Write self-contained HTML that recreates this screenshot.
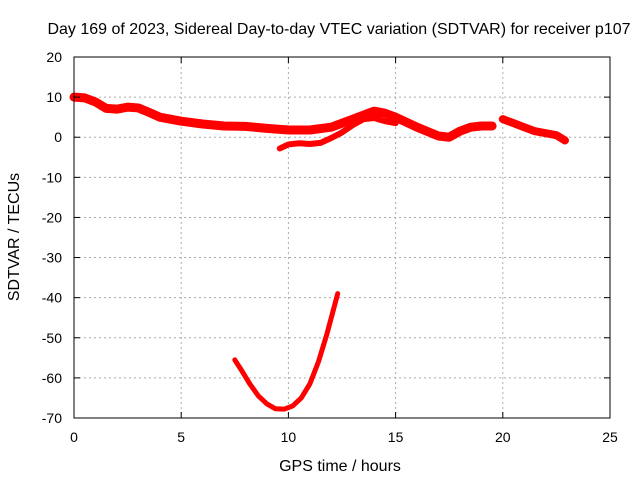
<!DOCTYPE html>
<html><head><meta charset="utf-8"><style>
body{margin:0;background:#fff;font-family:"Liberation Sans",sans-serif}
svg text{font-family:"Liberation Sans",sans-serif;font-size:14px;fill:#000}
</style></head><body>
<svg id="chart" width="640" height="480">
<text x="339" y="34" text-anchor="middle" style="font-size:16px">Day 169 of 2023, Sidereal Day-to-day VTEC variation (SDTVAR) for receiver p107</text>
<text x="340" y="471" text-anchor="middle" style="font-size:16px">GPS time / hours</text>
<text transform="translate(19,237) rotate(-90)" text-anchor="middle" style="font-size:16px">SDTVAR / TECUs</text>
<g id="grid"></g><g id="marks"></g>
<rect x="74" y="57" width="536" height="361" fill="none" stroke="#000"/>
<g id="ticks"></g>
</svg>
<script>
const xTicks=[0,5,10,15,20,25];
const yTicks=[20,10,0,-10,-20,-30,-40,-50,-60,-70];
const mainHours=[0,0.5,1,1.5,2,2.5,3,3.5,4,5,6,7,8,9,10,11,12,13,14,14.5,15,16,17,17.5,18,18.5,19,19.5];
const mainValues=[10,9.8,8.8,7.2,7,7.5,7.3,6.2,5,4,3.3,2.8,2.7,2.2,1.8,1.8,2.5,4.5,6.5,6,5,2.5,0.3,0,1.5,2.5,2.8,2.8];
const lowHours=[9.6,10,10.5,11,11.5,12,12.5,13,13.5,14,14.5,15];
const lowValues=[-2.8,-1.8,-1.5,-1.7,-1.4,-0.2,1.2,3,4.5,4.8,4,3.5];
const lateHours=[20,20.5,21,21.5,22,22.5,22.9];
const lateValues=[4.5,3.5,2.5,1.5,1,0.5,-0.8];
const curveHours=[7.5,7.8,8.2,8.6,9,9.4,9.8,10.2,10.6,11,11.4,11.8,12.1,12.3];
const curveValues=[-55.5,-58,-61.5,-64.5,-66.5,-67.7,-67.8,-67,-65,-61.5,-56,-49,-43,-39];
const X=v=>74+v*536/25, Y=v=>57+(20-v)*361/90;
const NS="http://www.w3.org/2000/svg";
const grid=document.getElementById('grid'),ticks=document.getElementById('ticks'),marks=document.getElementById('marks');
function mk(tag,at,p){const e=document.createElementNS(NS,tag);for(const k in at)e.setAttribute(k,at[k]);p.appendChild(e);return e;}
xTicks.forEach(t=>{
 if(t>0&&t<25){const g=mk('line',{x1:X(t),x2:X(t),y1:57,y2:418,stroke:'#aaa','stroke-dasharray':'2,3'},grid);
 
 }
 mk('line',{x1:X(t),x2:X(t),y1:418,y2:412,stroke:'#000'},ticks);
 mk('line',{x1:X(t),x2:X(t),y1:57,y2:63,stroke:'#000'},ticks);
 const l=mk('text',{x:X(t),y:442,'text-anchor':'middle'},ticks);l.textContent=t;
 
 
});
yTicks.forEach(t=>{
 if(t<20&&t>-70){const g=mk('line',{x1:74,x2:610,y1:Y(t),y2:Y(t),stroke:'#aaa','stroke-dasharray':'2,3'},grid);
 
 }
 mk('line',{x1:74,x2:80,y1:Y(t),y2:Y(t),stroke:'#000'},ticks);
 mk('line',{x1:610,x2:604,y1:Y(t),y2:Y(t),stroke:'#000'},ticks);
 const l=mk('text',{x:62,y:Y(t)+5,'text-anchor':'end'},ticks);l.textContent=t;
 
 
});
function series(hs,vs,w,name){
 const pts=hs.map((h,i)=>X(h)+','+Y(vs[i])).join(' ');
 const p=mk('polyline',{points:pts,fill:'none',stroke:'#f00','stroke-width':w,'stroke-linejoin':'round','stroke-linecap':'round'},marks);
 
 
}
series(mainHours,mainValues,9,'main-band-series');
series(lowHours,lowValues,6,'lower-band-series');
series(lateHours,lateValues,8,'late-band-series');
series(curveHours,curveValues,5,'dip-curve-series');
</script>
</body></html>
